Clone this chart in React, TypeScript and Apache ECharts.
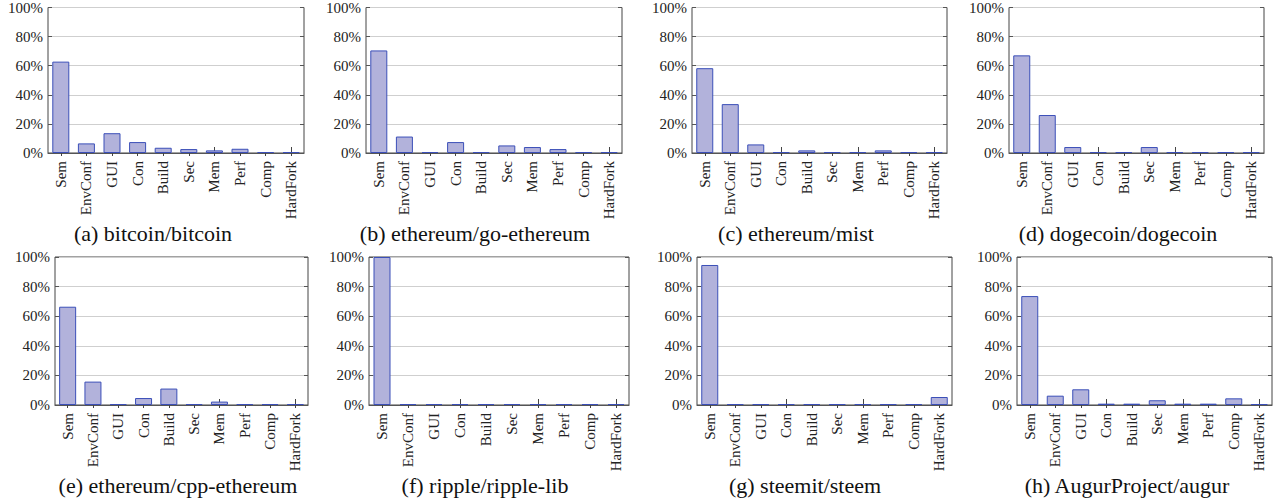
import React, { useEffect, useRef } from "react";
import * as echarts from "echarts";

const categories = ["Sem", "EnvConf", "GUI", "Con", "Build", "Sec", "Mem", "Perf", "Comp", "HardFork"];
const yTicks = [0, 20, 40, 60, 80, 100];

const bitcoin = [62.8, 6.6, 13.6, 7.5, 3.6, 2.7, 1.8, 2.9, 0, 0];
const goEthereum = [70.5, 11.3, 0, 7.5, 0, 5.2, 4.1, 2.7, 0, 0];
const mist = [58.3, 33.6, 5.9, 0, 1.8, 0, 0, 1.8, 0, 0];
const dogecoin = [67.1, 26.1, 4.1, 0, 0, 4.1, 0, 0, 0, 0];
const cppEthereum = [66.4, 15.8, 0, 4.7, 11.1, 0, 2.3, 0.5, 0, 0];
const rippleLib = [100, 0, 0, 0, 0, 0, 0, 0, 0, 0];
const steem = [94.6, 0, 0, 0, 0, 0, 0, 0, 0, 5.4];
const augur = [73.6, 6.3, 10.6, 0.9, 0.9, 3.2, 0.9, 0.9, 4.5, 0];

const captions = [
  "(a) bitcoin/bitcoin",
  "(b) ethereum/go-ethereum",
  "(c) ethereum/mist",
  "(d) dogecoin/dogecoin",
  "(e) ethereum/cpp-ethereum",
  "(f) ripple/ripple-lib",
  "(g) steemit/steem",
  "(h) AugurProject/augur",
];
const seriesData = [bitcoin, goEthereum, mist, dogecoin, cppEthereum, rippleLib, steem, augur];

// layout: [left, top, width, height]
const grids = [
  [48, 6, 256, 147],
  [366, 6, 256, 147],
  [692, 6, 255, 147],
  [1009, 6, 255, 147],
  [55, 257, 253, 148],
  [369, 257, 260, 148],
  [697, 257, 255, 148],
  [1017, 257, 255, 148],
];
const captionPos = [
  [153, 233],
  [475, 233],
  [796, 233],
  [1118, 233],
  [178, 485],
  [485, 485],
  [805, 485],
  [1127, 485],
];

const FONT = "'Liberation Serif', 'Times New Roman', 'DejaVu Serif', serif";
const TEXT = "#222";

export default function App() {
  const ref = useRef<HTMLDivElement>(null);
  useEffect(() => {
    if (!ref.current) return;
    const chart = echarts.init(ref.current, undefined, { renderer: "svg" });
    const grid: any[] = [];
    const xAxis: any[] = [];
    const yAxis: any[] = [];
    const series: any[] = [];
    grids.forEach((g, i) => {
      grid.push({
        left: g[0], top: g[1], width: g[2], height: g[3],
        show: true, borderColor: "#444", borderWidth: 1, backgroundColor: "transparent",
      });
      xAxis.push({
        type: "category", gridIndex: i, data: categories, position: "bottom",
        axisLine: { show: true, lineStyle: { color: "#555", width: 1.2 } },
        axisTick: { show: true, alignWithLabel: true, length: 3, lineStyle: { color: "#444" } },
        axisLabel: { rotate: 90, margin: 8, fontSize: 15, fontFamily: FONT, color: TEXT, interval: 0 },
        splitLine: { show: false },
      });
      xAxis.push({
        type: "category", gridIndex: i, data: categories, position: "top",
        axisLine: { show: false },
        axisTick: { show: true, alignWithLabel: true, length: 6, lineStyle: { color: "#444" } },
        axisLabel: { show: false },
        splitLine: { show: false },
      });
      yAxis.push({
        type: "value", gridIndex: i, min: 0, max: 100, interval: 20, position: "left",
        axisLine: { show: false },
        axisTick: { show: true, inside: true, length: 4, lineStyle: { color: "#555" } },
        axisLabel: {
          fontSize: 15, fontFamily: FONT, color: TEXT, margin: 5,
          formatter: (v: number) => (yTicks.includes(v) ? v + "%" : ""),
        },
        splitLine: { show: true, lineStyle: { color: "#cfcfcf", width: 1 } },
      });
      yAxis.push({
        type: "value", gridIndex: i, min: 0, max: 100, interval: 20, position: "right",
        axisLine: { show: false },
        axisTick: { show: true, inside: true, length: 4, lineStyle: { color: "#555" } },
        axisLabel: { show: false },
        splitLine: { show: false },
      });
      series.push({
        type: "bar",
        xAxisIndex: i * 2,
        yAxisIndex: i * 2,
        data: seriesData[i],
        barWidth: 17,
        barMinHeight: 1,
        itemStyle: { color: "#b2b2db", borderColor: "#3b4fb8", borderWidth: 1 },
        silent: true,
      });
    });
    const graphic = captions.map((c, i) => ({
      type: "text",
      x: captionPos[i][0],
      y: captionPos[i][1],
      style: {
        text: c,
        fontSize: 22,
        fontFamily: FONT,
        fill: "#111",
        textAlign: "center",
        textVerticalAlign: "middle",
      },
    }));
    chart.setOption({
      animation: false,
      backgroundColor: "#ffffff",
      grid,
      xAxis,
      yAxis,
      series,
      graphic,
    });
    return () => chart.dispose();
  }, []);
  return (
    <div
      ref={ref}
      style={{ position: "absolute", left: 0, top: 0, width: 1278, height: 503 }}
    />
  );
}
